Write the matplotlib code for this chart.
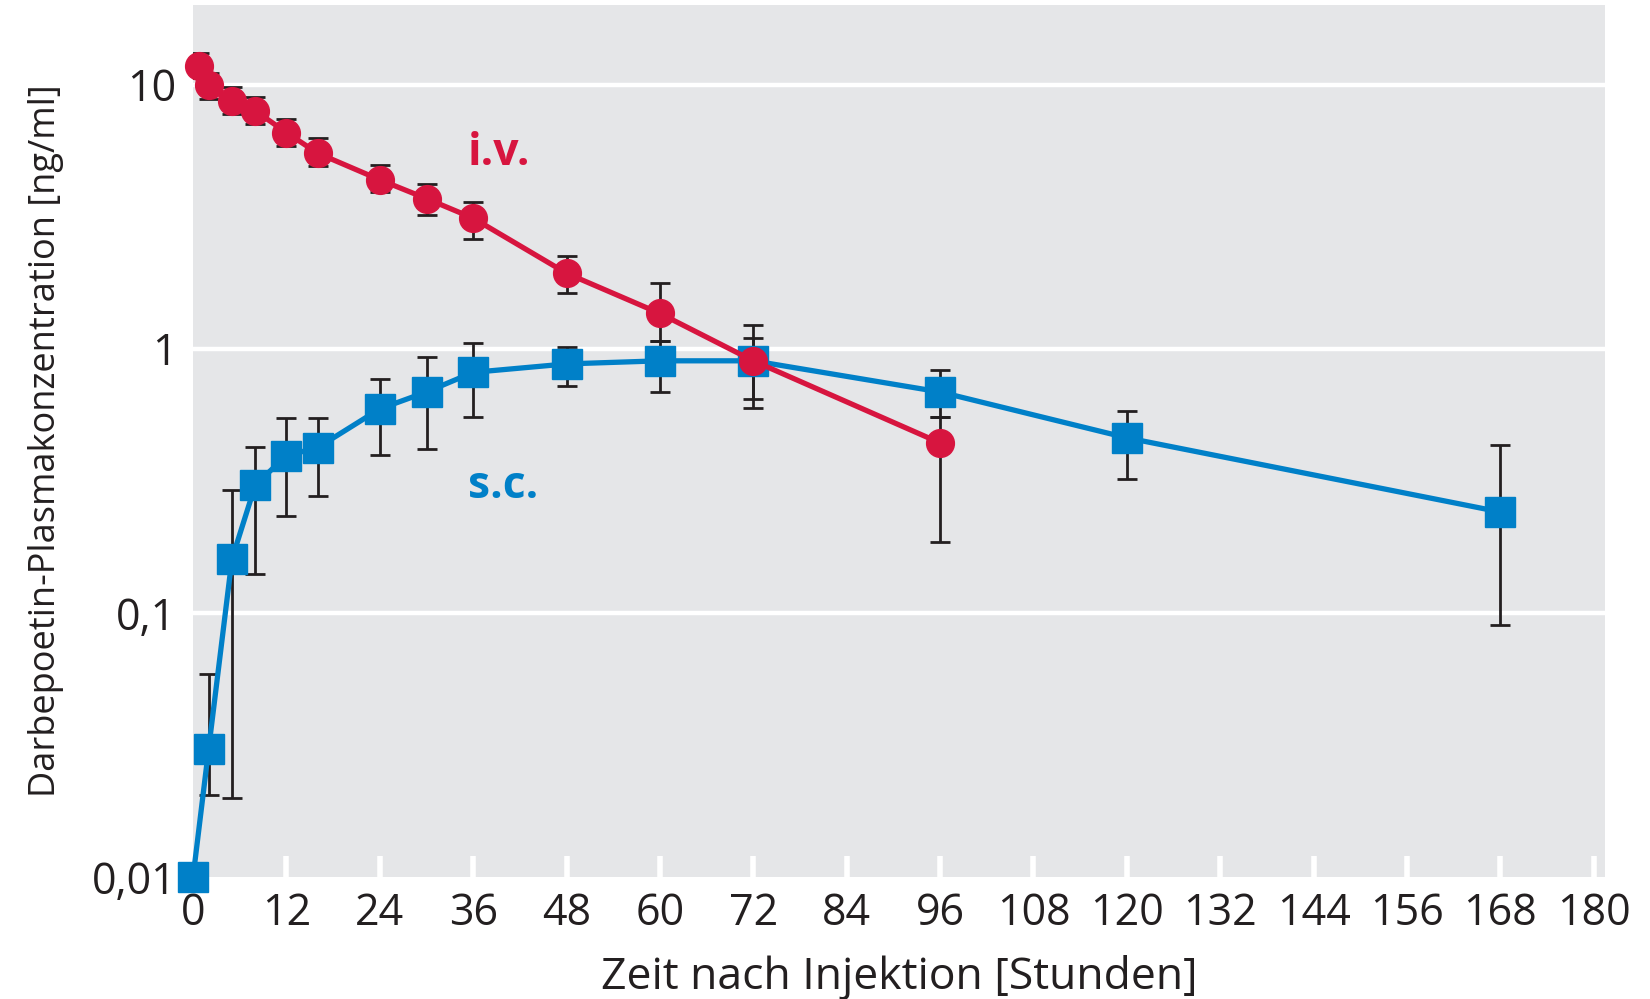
import numpy as np
import matplotlib
matplotlib.use("Agg")
import matplotlib.pyplot as plt
from matplotlib.ticker import FixedLocator, FixedFormatter, NullLocator

# ---- DATA ----
iv_time = [0.75, 2, 5, 8, 12, 16, 24, 30, 36, 48, 60, 72, 96]
iv_conc = [11.8, 9.97, 8.65, 7.95, 6.58, 5.5, 4.36, 3.7, 3.12, 1.93, 1.36, 0.90, 0.44]
iv_hi = [13.2, 11.1, 9.75, 8.98, 7.41, 6.25, 4.94, 4.2, 3.6, 2.24, 1.77, 1.23, 0.55]
iv_lo = [10.6, 8.83, 7.73, 7.10, 5.87, 4.91, 3.92, 3.21, 2.6, 1.63, 1.07, 0.647, 0.186]

sc_time = [0, 2, 5, 8, 12, 16, 24, 30, 36, 48, 60, 72, 96, 120, 168]
sc_conc = [0.01, 0.0305, 0.16, 0.305, 0.394, 0.422, 0.592, 0.686, 0.814, 0.876, 0.90, 0.90, 0.686, 0.46, 0.241]
sc_hi = [0.01, 0.0586, 0.292, 0.425, 0.545, 0.545, 0.765, 0.929, 1.05, 1.015, 1.07, 1.095, 0.83, 0.58, 0.433]
sc_lo = [0.01, 0.0204, 0.020, 0.141, 0.233, 0.277, 0.395, 0.418, 0.553, 0.723, 0.686, 0.595, 0.55, 0.32, 0.090]

x_ticks = list(range(0, 181, 12))
y_ticks = [0.01, 0.1, 1, 10]
y_labels = ["0,01", "0,1", "1", "10"]

# ---- STYLE ----
RED = "#D7153F"
BLUE = "#0080C8"
BG = "#E5E6E8"
BAR = "#231F20"
plt.rcParams["font.family"] = ["Open Sans", "DejaVu Sans"]

fig = plt.figure(figsize=(16.5, 9.99), dpi=100)
ax = fig.add_axes([0.117, 0.122, 0.856, 0.873])
ax.set_facecolor(BG)
for s in ax.spines.values():
    s.set_visible(False)

ax.set_yscale("log")
ax.set_xlim(0, 181.5)
ax.set_ylim(0.01, 20)

# white grid at decades
for v in [0.1, 1, 10]:
    ax.axhline(v, color="white", lw=3.2, zorder=1)


def yerr(val, lo, hi):
    val = np.array(val)
    return [val - np.array(lo), np.array(hi) - val]


# error bars behind the markers
ax.errorbar(sc_time, sc_conc, yerr=yerr(sc_conc, sc_lo, sc_hi), fmt="none",
            ecolor=BAR, elinewidth=2, capsize=7.5, capthick=2, zorder=2)
ax.errorbar(iv_time, iv_conc, yerr=yerr(iv_conc, iv_lo, iv_hi), fmt="none",
            ecolor=BAR, elinewidth=2, capsize=7.5, capthick=2, zorder=2)

ax.plot(sc_time, sc_conc, color=BLUE, lw=3.8, marker="s", ms=21,
        mec=BLUE, zorder=3, clip_on=False)
ax.plot(iv_time, iv_conc, color=RED, lw=3.8, marker="o", ms=20,
        mec=RED, zorder=4, clip_on=False)

ax.text(35.3, 5.5, "i.v.", color=RED, fontsize=32, fontweight="bold",
        ha="left", va="center")
ax.text(35.3, 0.30, "s.c.", color=BLUE, fontsize=32, fontweight="bold",
        ha="left", va="center")

# ticks
ax.xaxis.set_major_locator(FixedLocator(x_ticks))
ax.tick_params(axis="x", direction="in", length=15, width=4, color="white",
               labelsize=31, pad=10, labelcolor="#231F20")
ax.yaxis.set_major_locator(FixedLocator(y_ticks))
ax.yaxis.set_major_formatter(FixedFormatter(y_labels))
ax.yaxis.set_minor_locator(NullLocator())
ax.tick_params(axis="y", length=0, labelsize=31, pad=12, labelcolor="#231F20")

ax.set_xlabel("Zeit nach Injektion [Stunden]", fontsize=32, color="#231F20", labelpad=14)
ax.set_ylabel("Darbepoetin-Plasmakonzentration [ng/ml]", fontsize=26,
              color="#231F20", labelpad=20)

fig.savefig("out.png", dpi=100)
